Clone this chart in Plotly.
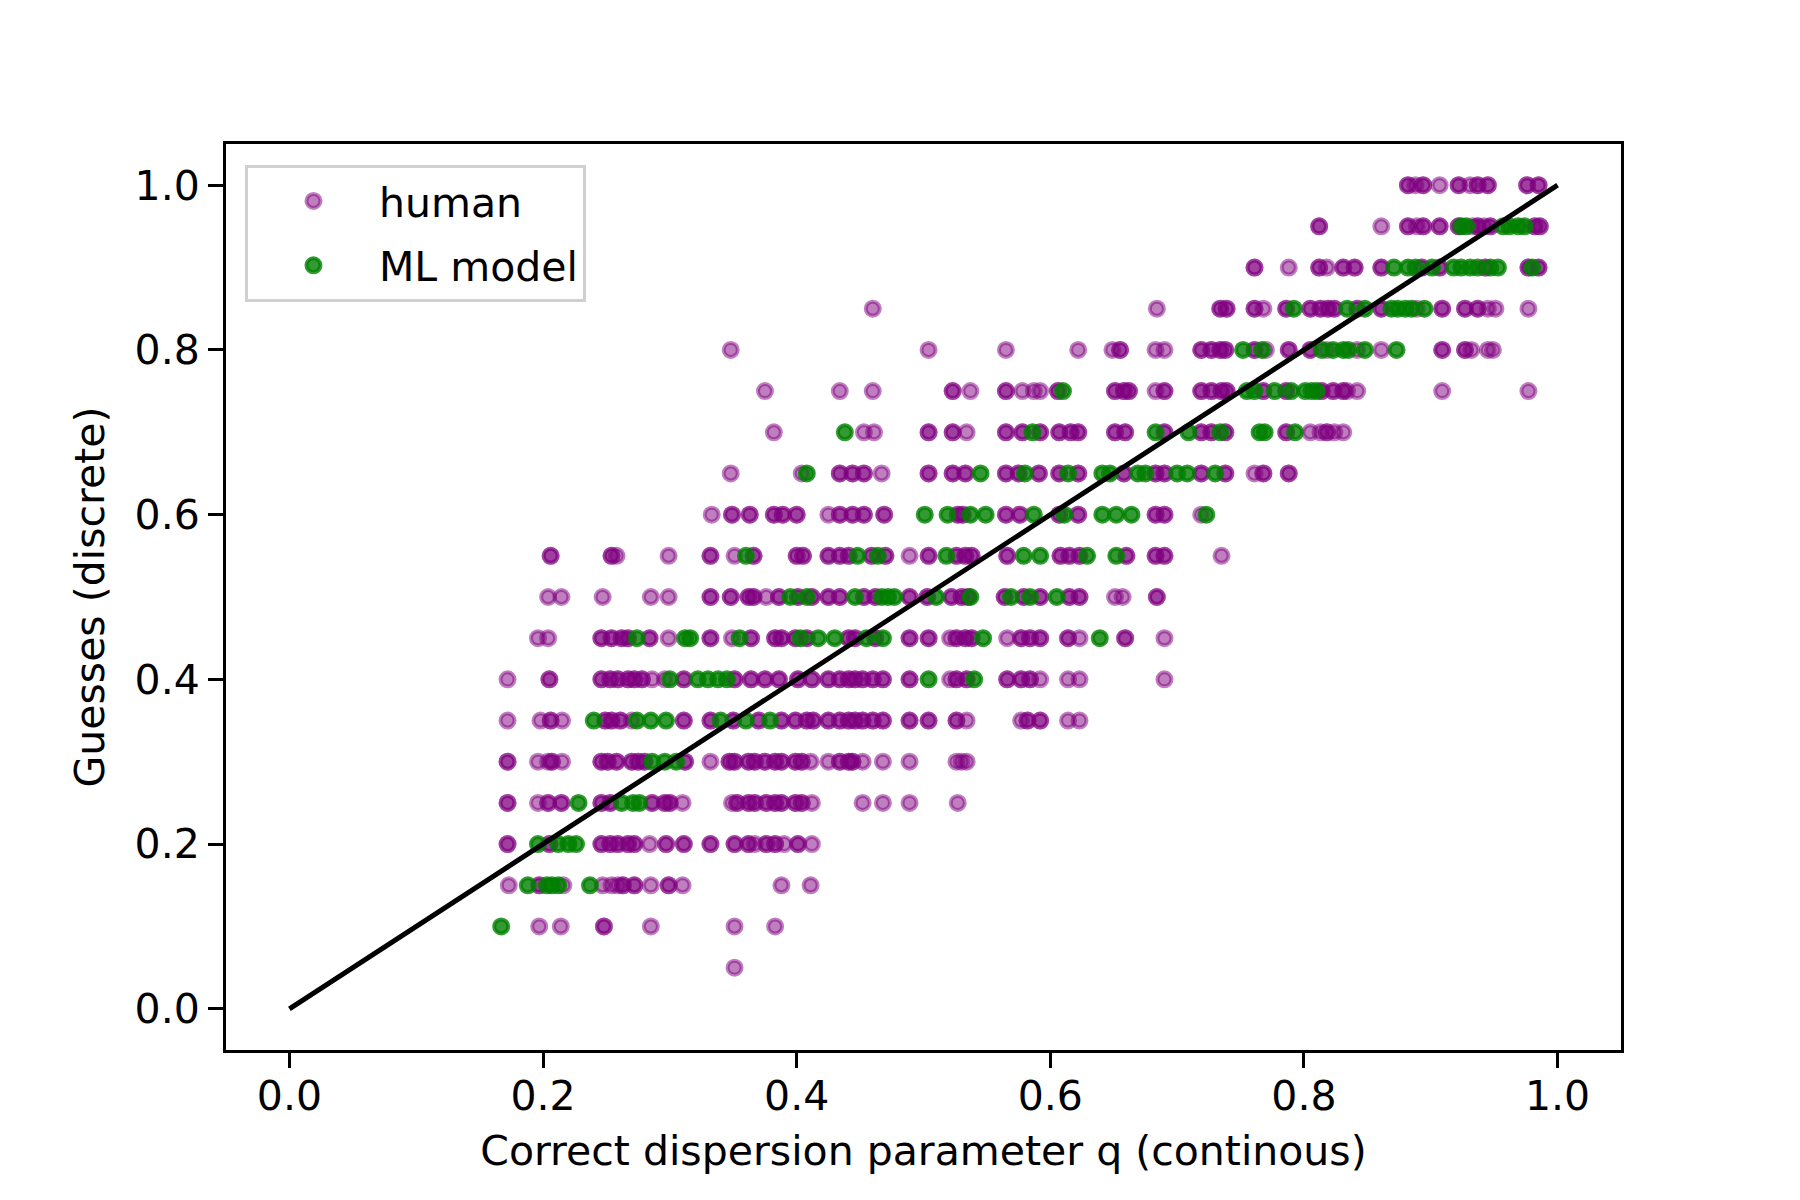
import plotly.graph_objects as go

# discrete guess levels (y) and the correct q values (x) read for each level
guess_levels = [1.0, 0.95, 0.9, 0.85, 0.8, 0.75, 0.7, 0.65, 0.6, 0.55,
                0.5, 0.45, 0.4, 0.35, 0.3, 0.25, 0.2, 0.15, 0.1, 0.05]

human_q = [
    [0.882, 0.888, 0.894, 0.907, 0.922, 0.931, 0.937, 0.945, 0.976, 0.985],
    [0.812, 0.861, 0.882, 0.889, 0.894, 0.907, 0.922, 0.933, 0.937, 0.942, 0.947, 0.982, 0.986],
    [0.761, 0.788, 0.812, 0.818, 0.831, 0.840, 0.861, 0.893, 0.907, 0.943, 0.977, 0.985],
    [0.460, 0.684, 0.734, 0.739, 0.761, 0.768, 0.786, 0.805, 0.813, 0.819, 0.824, 0.842,
     0.861, 0.889, 0.909, 0.927, 0.937, 0.945, 0.951, 0.977],
    [0.348, 0.504, 0.565, 0.622, 0.649, 0.655, 0.683, 0.690, 0.719, 0.727, 0.734, 0.738,
     0.761, 0.770, 0.788, 0.805, 0.818, 0.842, 0.861, 0.909, 0.927, 0.932, 0.945, 0.949],
    [0.375, 0.434, 0.460, 0.523, 0.537, 0.565, 0.578, 0.587, 0.592, 0.606, 0.651, 0.658,
     0.662, 0.683, 0.690, 0.719, 0.727, 0.735, 0.739, 0.768, 0.786, 0.814, 0.823, 0.831,
     0.834, 0.842, 0.909, 0.977],
    [0.382, 0.453, 0.461, 0.504, 0.523, 0.534, 0.565, 0.578, 0.592, 0.607, 0.616, 0.622,
     0.651, 0.659, 0.690, 0.719, 0.727, 0.738, 0.786, 0.805, 0.813, 0.818, 0.824, 0.831],
    [0.348, 0.404, 0.434, 0.444, 0.453, 0.467, 0.504, 0.523, 0.533, 0.565, 0.575, 0.591,
     0.607, 0.622, 0.658, 0.683, 0.690, 0.719, 0.738, 0.761, 0.768, 0.788],
    [0.333, 0.349, 0.363, 0.382, 0.389, 0.400, 0.425, 0.434, 0.444, 0.453, 0.469, 0.527,
     0.531, 0.565, 0.576, 0.607, 0.622, 0.683, 0.690, 0.719],
    [0.206, 0.254, 0.258, 0.299, 0.332, 0.351, 0.366, 0.400, 0.405, 0.425, 0.434, 0.441,
     0.459, 0.470, 0.489, 0.504, 0.526, 0.533, 0.538, 0.566, 0.608, 0.615, 0.623, 0.660,
     0.683, 0.690, 0.735],
    [0.204, 0.2145, 0.247, 0.285, 0.299, 0.332, 0.348, 0.362, 0.366, 0.376, 0.386, 0.401,
     0.412, 0.425, 0.434, 0.453, 0.462, 0.489, 0.503, 0.522, 0.530, 0.535, 0.564, 0.579,
     0.592, 0.615, 0.623, 0.651, 0.657, 0.684],
    [0.196, 0.204, 0.246, 0.254, 0.262, 0.267, 0.284, 0.299, 0.332, 0.349, 0.364, 0.383,
     0.388, 0.399, 0.408, 0.441, 0.446, 0.462, 0.489, 0.504, 0.521, 0.526, 0.533, 0.538,
     0.566, 0.577, 0.584, 0.592, 0.614, 0.623, 0.659, 0.690],
    [0.172, 0.205, 0.246, 0.253, 0.259, 0.267, 0.272, 0.278, 0.286, 0.296, 0.311, 0.351,
     0.364, 0.375, 0.386, 0.401, 0.412, 0.425, 0.434, 0.441, 0.446, 0.452, 0.460, 0.468,
     0.489, 0.521, 0.526, 0.534, 0.566, 0.577, 0.584, 0.592, 0.614, 0.623, 0.690],
    [0.172, 0.198, 0.206, 0.215, 0.249, 0.254, 0.261, 0.270, 0.311, 0.332, 0.350, 0.370,
     0.388, 0.399, 0.408, 0.413, 0.425, 0.434, 0.441, 0.446, 0.452, 0.460, 0.468, 0.489,
     0.504, 0.526, 0.534, 0.577, 0.582, 0.592, 0.614, 0.623],
    [0.172, 0.196, 0.204, 0.207, 0.215, 0.246, 0.251, 0.258, 0.270, 0.275, 0.280, 0.312,
     0.332, 0.347, 0.351, 0.362, 0.367, 0.375, 0.383, 0.388, 0.399, 0.404, 0.411, 0.425,
     0.434, 0.441, 0.444, 0.452, 0.468, 0.489, 0.526, 0.530, 0.534],
    [0.172, 0.196, 0.204, 0.2145, 0.246, 0.253, 0.286, 0.296, 0.300, 0.310, 0.349, 0.353,
     0.362, 0.367, 0.376, 0.383, 0.388, 0.399, 0.404, 0.412, 0.452, 0.468, 0.489, 0.527],
    [0.172, 0.205, 0.246, 0.253, 0.259, 0.267, 0.272, 0.284, 0.297, 0.311, 0.332, 0.351,
     0.362, 0.367, 0.376, 0.383, 0.390, 0.401, 0.412],
    [0.173, 0.197, 0.216, 0.247, 0.254, 0.259, 0.263, 0.272, 0.285, 0.299, 0.310, 0.388, 0.411],
    [0.197, 0.214, 0.248, 0.285, 0.351, 0.383],
    [0.351],
]

# human guesses that land on the same spot more than once (the darker, solid dots)
human_q_repeat = [
    [0.882, 0.894, 0.922, 0.937, 0.945, 0.976, 0.985],
    [0.812, 0.882, 0.894, 0.907, 0.922, 0.937, 0.947, 0.982, 0.986],
    [0.761, 0.812, 0.831, 0.840, 0.861, 0.893, 0.907, 0.943, 0.977, 0.985],
    [0.734, 0.739, 0.761, 0.786, 0.805, 0.813, 0.819, 0.824, 0.842, 0.861, 0.909, 0.927,
     0.937],
    [0.655, 0.719, 0.727, 0.734, 0.738, 0.761, 0.788, 0.805, 0.909, 0.927],
    [0.523, 0.565, 0.606, 0.651, 0.658, 0.662, 0.690, 0.719, 0.727, 0.735, 0.739, 0.768,
     0.786, 0.814, 0.823, 0.831],
    [0.504, 0.523, 0.565, 0.578, 0.592, 0.607, 0.616, 0.622, 0.651, 0.659, 0.690, 0.719,
     0.727, 0.738, 0.786, 0.818],
    [0.434, 0.444, 0.453, 0.504, 0.523, 0.533, 0.565, 0.575, 0.591, 0.607, 0.622, 0.658,
     0.683, 0.690, 0.719, 0.738, 0.768, 0.788],
    [0.349, 0.363, 0.382, 0.389, 0.400, 0.434, 0.444, 0.453, 0.469, 0.527, 0.531, 0.565,
     0.576, 0.607, 0.622, 0.683, 0.690],
    [0.206, 0.254, 0.332, 0.366, 0.400, 0.405, 0.425, 0.434, 0.441, 0.459, 0.470, 0.504,
     0.526, 0.533, 0.538, 0.566, 0.608, 0.615, 0.623, 0.660, 0.683, 0.690],
    [0.332, 0.348, 0.362, 0.366, 0.386, 0.401, 0.412, 0.425, 0.434, 0.453, 0.462, 0.489,
     0.503, 0.522, 0.530, 0.535, 0.564, 0.579, 0.592, 0.615, 0.623, 0.684],
    [0.246, 0.254, 0.262, 0.267, 0.284, 0.332, 0.364, 0.383, 0.388, 0.399, 0.408, 0.441,
     0.446, 0.462, 0.489, 0.504, 0.526, 0.533, 0.538, 0.577, 0.584, 0.592, 0.614, 0.659],
    [0.205, 0.246, 0.253, 0.259, 0.267, 0.272, 0.278, 0.311, 0.351, 0.364, 0.375, 0.386,
     0.401, 0.412, 0.425, 0.434, 0.441, 0.446, 0.452, 0.460, 0.468, 0.489, 0.526, 0.534,
     0.566, 0.577, 0.584],
    [0.206, 0.249, 0.254, 0.261, 0.311, 0.332, 0.350, 0.370, 0.388, 0.399, 0.408, 0.413,
     0.425, 0.434, 0.441, 0.446, 0.452, 0.460, 0.468, 0.489, 0.504, 0.526, 0.582, 0.592],
    [0.172, 0.207, 0.246, 0.251, 0.258, 0.270, 0.275, 0.280, 0.312, 0.347, 0.351, 0.362,
     0.367, 0.375, 0.383, 0.388, 0.399, 0.404, 0.434, 0.441, 0.444],
    [0.172, 0.204, 0.2145, 0.246, 0.253, 0.286, 0.296, 0.300, 0.353, 0.362, 0.367, 0.376,
     0.383, 0.388, 0.399, 0.404],
    [0.172, 0.205, 0.246, 0.253, 0.259, 0.267, 0.272, 0.297, 0.311, 0.332, 0.351, 0.362,
     0.376, 0.383, 0.401],
    [0.197, 0.263, 0.272, 0.299],
    [0.248],
    [],
]

ml_q = [
    [],
    [0.924, 0.928, 0.957, 0.962, 0.969, 0.974],
    [0.871, 0.882, 0.888, 0.901, 0.918, 0.924, 0.931, 0.937, 0.947, 0.953, 0.980],
    [0.792, 0.834, 0.848, 0.869, 0.874, 0.880, 0.885, 0.895],
    [0.752, 0.767, 0.814, 0.823, 0.831, 0.835, 0.848, 0.873],
    [0.610, 0.755, 0.761, 0.777, 0.790, 0.801, 0.806, 0.810],
    [0.438, 0.586, 0.683, 0.709, 0.734, 0.765, 0.769, 0.793],
    [0.408, 0.545, 0.580, 0.614, 0.641, 0.647, 0.669, 0.675, 0.700, 0.708, 0.730],
    [0.501, 0.519, 0.537, 0.549, 0.587, 0.611, 0.641, 0.652, 0.664, 0.723],
    [0.360, 0.448, 0.464, 0.518, 0.579, 0.592, 0.629, 0.652],
    [0.395, 0.408, 0.446, 0.467, 0.472, 0.477, 0.510, 0.537, 0.569, 0.584, 0.605],
    [0.274, 0.312, 0.316, 0.355, 0.403, 0.417, 0.430, 0.455, 0.468, 0.547, 0.639],
    [0.300, 0.322, 0.330, 0.338, 0.345, 0.504, 0.540],
    [0.240, 0.274, 0.285, 0.297, 0.340, 0.360, 0.379],
    [0.286, 0.296, 0.305],
    [0.228, 0.262, 0.271, 0.276],
    [0.196, 0.212, 0.220, 0.226],
    [0.188, 0.203, 0.207, 0.212, 0.237],
    [0.167],
    [],
]

ideal_line = [0.0, 1.0]
tick_values = [0.0, 0.2, 0.4, 0.6, 0.8, 1.0]


def flatten(*row_sets):
    xs, ys = [], []
    for rows in row_sets:
        for level, qs in zip(guess_levels, rows):
            xs += qs
            ys += [level] * len(qs)
    return xs, ys


hx, hy = flatten(human_q, human_q_repeat)
mx, my = flatten(ml_q)

font = "DejaVu Sans"
fig = go.Figure()

fig.add_trace(go.Scatter(
    x=hx, y=hy, mode="markers", name="human", legendgroup="h",
    marker=dict(size=14, color="rgba(128,0,128,0.5)",
                line=dict(width=4, color="rgba(128,0,128,0.5)")),
))
fig.add_trace(go.Scatter(
    x=mx, y=my, mode="markers", name="ML model", legendgroup="m",
    marker=dict(size=14, color="rgba(0,128,0,0.8)",
                line=dict(width=4, color="rgba(0,128,0,0.8)")),
))
fig.add_trace(go.Scatter(
    x=ideal_line, y=ideal_line, mode="lines", showlegend=False,
    line=dict(color="black", width=5),
))

axis_style = dict(
    range=[-0.05, 1.05],
    tickvals=tick_values,
    ticktext=[f"{v:.1f}" for v in tick_values],
    showgrid=False, zeroline=False,
    showline=True, mirror=True, linecolor="black", linewidth=3,
    ticks="outside", ticklen=15, tickwidth=3, tickcolor="black",
    tickfont=dict(family=font, size=41, color="black"),
)

# page body adds an 8px offset, so the figure is 8px smaller than the window
fig.update_layout(
    width=1792, height=1192,
    margin=dict(l=218, r=179, t=136, b=150),
    plot_bgcolor="white", paper_bgcolor="white",
    font=dict(family=font, size=41, color="black"),
    xaxis=dict(axis_style, ticklabelstandoff=-7,
               title=dict(text="Correct dispersion parameter q (continous)",
                          font=dict(family=font, size=41), standoff=18)),
    yaxis=dict(axis_style, title=dict(text="Guesses (discrete)",
                                      font=dict(family=font, size=41), standoff=18)),
    legend=dict(x=0.0136, y=0.977, xanchor="left", yanchor="top",
                bgcolor="white", bordercolor="#d0d0d0", borderwidth=3,
                itemwidth=121, traceorder="grouped", tracegroupgap=8,
                font=dict(family=font, size=41, color="black")),
)

fig.write_html("out.html")
